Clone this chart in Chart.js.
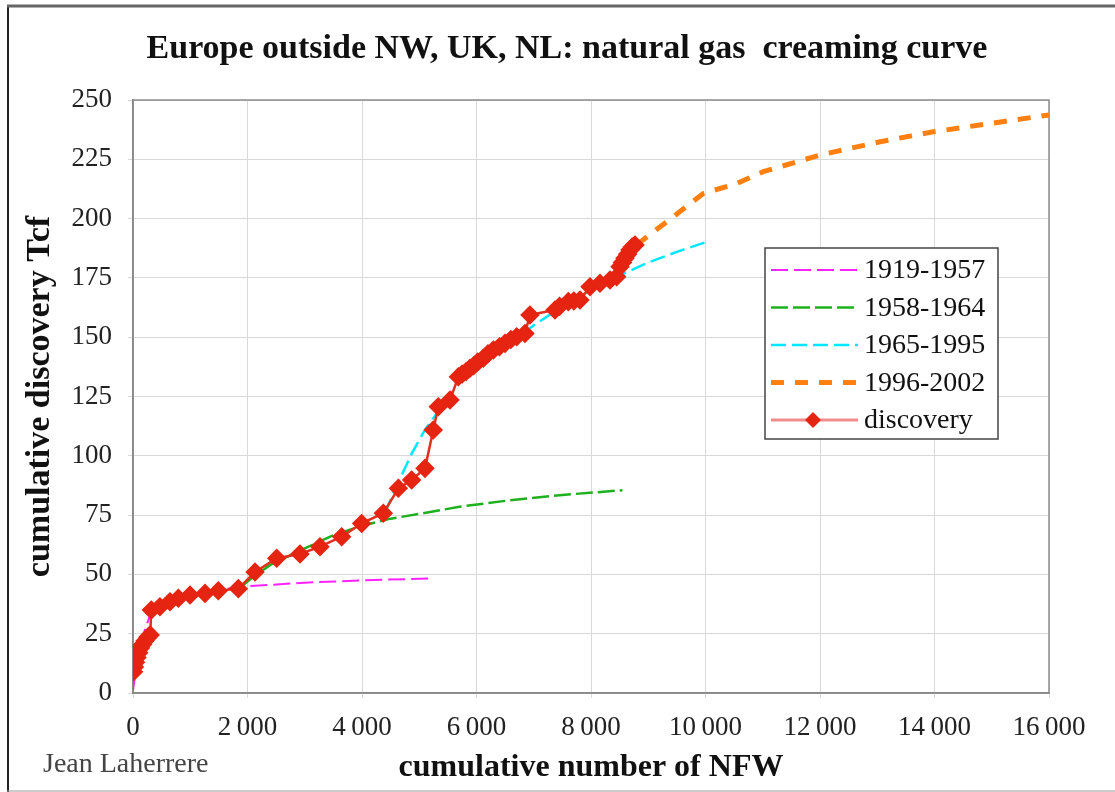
<!DOCTYPE html>
<html>
<head>
<meta charset="utf-8">
<script src="https://cdn.jsdelivr.net/npm/chart.js@4.4.1/dist/chart.umd.min.js"></script>
<style>
  html, body { margin: 0; padding: 0; background: #fff; }
  #wrap { width: 1115px; height: 792px; position: relative; }
</style>
</head>
<body>
<div id="wrap"><canvas id="creamingChart"></canvas></div>
<script>
const chartTitle = "Europe outside NW, UK, NL: natural gas  creaming curve";
const xTitle = "cumulative number of NFW";
const yTitle = "cumulative discovery Tcf";
const credit = "Jean Laherrere";

// tick labels
const xTickLabels = ["0", "2\u2009000", "4\u2009000", "6\u2009000", "8\u2009000", "10\u2009000", "12\u2009000", "14\u2009000", "16\u2009000"];
const yTickLabels = ["0", "25", "50", "75", "100", "125", "150", "175", "200", "225", "250"];

// discovery (cumulative NFW, cumulative Tcf)
const discoveryX = [10, 25, 45, 70, 100, 130, 170, 210, 260, 300, 320, 470, 646, 792, 996, 1258, 1490, 1840,
  2131, 2510, 2917, 3266, 3645, 3994, 4373, 4635, 4867, 5100, 5245, 5333, 5537, 5683, 5750, 5820, 5886,
  5950, 6020, 6119, 6200, 6294, 6400, 6498, 6600, 6702, 6847, 6934, 7371, 7450, 7604, 7700, 7808, 7983,
  8157, 8332, 8449, 8507, 8550, 8594, 8640, 8681, 8720, 8769];
const discoveryY = [9, 11, 13, 15, 17, 19, 20.5, 22, 23.5, 24.5, 35, 36.4, 38.5, 39.9, 41.3, 42, 43.1, 44,
  51, 56.8, 58.6, 61.7, 65.9, 71.5, 75.8, 86.3, 89.8, 94.7, 110.9, 120.7, 123.5, 133.3, 134.5, 135.5, 136.9,
  138, 139.5, 141.1, 143, 144.6, 146, 147.4, 149, 150.2, 151.6, 159.4, 161.5, 163, 165, 165.3, 165.7, 171.3,
  172.7, 174.1, 175.5, 179.7, 181.5, 183.3, 185, 186.8, 188, 188.9];

// fitted creaming curves per period
const p1919X = [0, 50, 100, 200, 300, 500, 1000, 1500, 2000, 3000, 4000, 5200];
const p1919Y = [1, 10, 17, 26, 33, 37, 41, 43.5, 45, 46.5, 47.5, 48.3];
const p1958X = [1900, 2100, 2400, 2700, 3000, 3500, 4000, 4500, 5000, 5700, 6500, 7500, 8550];
const p1958Y = [45, 49, 54, 57.5, 61, 66.5, 70.5, 73.5, 75.5, 78.5, 81, 83.5, 85.5];
const p1965X = [4400, 4600, 4870, 5100, 5400, 5700, 6000, 6500, 7000, 7500, 8000, 8500, 9000, 9500, 10000];
const p1965Y = [76, 87, 101, 111, 121, 131, 137, 146, 155, 163, 170, 176, 181.5, 186, 190];
const p1996X = [8800, 9438, 9962, 10544, 11009, 12000, 13048, 13980, 14969, 16000];
const p1996Y = [189, 200.8, 210.6, 214.8, 219.8, 226.8, 232.4, 236.6, 240.1, 243.7];

const pts = (xs, ys) => xs.map((x, i) => ({ x: x, y: ys[i] }));
const serif = "'Liberation Serif', 'DejaVu Serif', serif";

const datasets = [
  {
    label: "discovery",
    data: pts(discoveryX, discoveryY),
    borderColor: "#e0301e",
    backgroundColor: "#e62412",
    borderWidth: 2.5,
    pointStyle: "rectRot",
    pointRadius: 8,
    pointBorderColor: "#e62412",
    pointBackgroundColor: "#e62412",
  },
  {
    label: "1919-1957",
    data: pts(p1919X, p1919Y),
    borderColor: "#ff22ff",
    borderWidth: 2,
    borderDash: [17, 6],
    pointRadius: 0,
  },
  {
    label: "1958-1964",
    data: pts(p1958X, p1958Y),
    borderColor: "#1fb01f",
    borderWidth: 2.5,
    borderDash: [17, 5],
    pointRadius: 0,
  },
  {
    label: "1965-1995",
    data: pts(p1965X, p1965Y),
    borderColor: "#00e8ff",
    borderWidth: 2.5,
    borderDash: [15, 6],
    pointRadius: 0,
  },
  {
    label: "1996-2002",
    data: pts(p1996X, p1996Y),
    borderColor: "#ff8010",
    borderWidth: 5,
    borderDash: [13, 11],
    pointRadius: 0,
  },
];
const legendOrder = [1, 2, 3, 4, 0];

const decorPlugin = {
  id: "decor",
  beforeDraw(chart) {
    const ctx = chart.ctx;
    ctx.save();
    ctx.fillStyle = "#fff";
    ctx.fillRect(0, 0, chart.width, chart.height);
    ctx.restore();
  },
  beforeDatasetsDraw(chart) {
    const { ctx, chartArea: a } = chart;
    ctx.save();
    ctx.strokeStyle = "#8c8c8c";
    ctx.lineWidth = 1.5;
    ctx.strokeRect(a.left, a.top, a.right - a.left, a.bottom - a.top);
    ctx.restore();
  },
  afterDraw(chart) {
    const ctx = chart.ctx;
    ctx.save();
    // outer frame
    ctx.strokeStyle = "#222";
    ctx.lineWidth = 2;
    ctx.beginPath(); ctx.moveTo(8, 6); ctx.lineTo(8, 792); ctx.stroke();
    ctx.strokeStyle = "#666";
    ctx.lineWidth = 3;
    ctx.beginPath(); ctx.moveTo(7, 6); ctx.lineTo(1115, 6); ctx.stroke();
    ctx.strokeStyle = "#999";
    ctx.lineWidth = 1;
    ctx.beginPath(); ctx.moveTo(7, 791); ctx.lineTo(1115, 791); ctx.stroke();

    // title
    ctx.fillStyle = "#111";
    ctx.font = "bold 34px " + serif;
    ctx.textAlign = "center";
    ctx.textBaseline = "alphabetic";
    ctx.fillText(chartTitle, 567, 58);

    // credit
    ctx.fillStyle = "#444";
    ctx.font = "28px " + serif;
    ctx.textAlign = "left";
    ctx.fillText(credit, 43, 772);

    // legend box
    const lx = 765, ly = 248, lw = 233, lh = 191;
    ctx.fillStyle = "#fff";
    ctx.fillRect(lx, ly, lw, lh);
    ctx.strokeStyle = "#444";
    ctx.lineWidth = 1.5;
    ctx.strokeRect(lx, ly, lw, lh);
    ctx.font = "28px " + serif;
    ctx.textBaseline = "middle";
    legendOrder.forEach((di, row) => {
      const ds = chart.data.datasets[di];
      const y = 270 + row * 37.5;
      ctx.save();
      if (ds.pointRadius > 0) {
        ctx.strokeStyle = "rgba(238, 120, 120, 0.85)";
        ctx.lineWidth = 3;
        ctx.beginPath(); ctx.moveTo(771, y); ctx.lineTo(858, y); ctx.stroke();
        ctx.fillStyle = ds.pointBackgroundColor;
        const r = 8;
        ctx.beginPath();
        ctx.moveTo(813, y - r); ctx.lineTo(813 + r, y); ctx.lineTo(813, y + r); ctx.lineTo(813 - r, y);
        ctx.closePath(); ctx.fill();
      } else {
        ctx.strokeStyle = ds.borderColor;
        ctx.lineWidth = ds.borderWidth;
        ctx.setLineDash(ds.borderDash);
        ctx.beginPath(); ctx.moveTo(771, y); ctx.lineTo(858, y); ctx.stroke();
      }
      ctx.restore();
      ctx.fillStyle = "#111";
      ctx.fillText(ds.label, 864, y + 1);
    });
    ctx.restore();
  },
};

new Chart(document.getElementById("creamingChart"), {
  type: "line",
  data: { datasets: datasets },
  options: {
    responsive: true,
    maintainAspectRatio: false,
    animation: false,
    layout: { padding: { left: 10, right: 66, top: 100, bottom: 0 } },
    elements: { line: { tension: 0 } },
    scales: {
      x: {
        type: "linear",
        min: 0,
        max: 16000,
        afterFit: (s) => { s.height = 99; },
        ticks: {
          stepSize: 2000,
          maxRotation: 0,
          padding: 14,
          color: "#222",
          font: { family: serif, size: 27 },
          callback: (v, i) => xTickLabels[i],
        },
        grid: { color: "#d9d9d9", lineWidth: 1, tickLength: 5 },
        border: { color: "#777", width: 1.5 },
        title: {
          display: true,
          text: xTitle,
          color: "#111",
          font: { family: serif, size: 32, weight: "bold" },
          padding: { top: 0, bottom: 5 },
        },
      },
      y: {
        type: "linear",
        min: 0,
        max: 250,
        afterFit: (s) => { s.width = 123; },
        ticks: {
          stepSize: 25,
          padding: 16,
          color: "#222",
          font: { family: serif, size: 27 },
          callback: (v, i) => yTickLabels[i],
        },
        grid: { color: "#d9d9d9", lineWidth: 1, tickLength: 5 },
        border: { color: "#777", width: 1.5 },
        title: {
          display: true,
          text: yTitle,
          color: "#111",
          font: { family: serif, size: 34, weight: "bold" },
          padding: { top: 10, bottom: 0 },
        },
      },
    },
    plugins: {
      legend: { display: false },
      title: { display: false },
      tooltip: { enabled: false },
    },
  },
  plugins: [decorPlugin],
});
</script>
</body>
</html>
